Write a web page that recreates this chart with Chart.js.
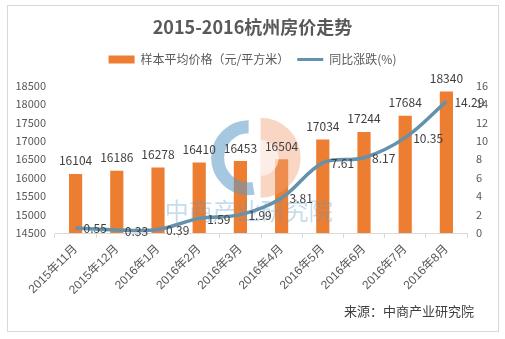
<!DOCTYPE html>
<html>
<head>
<meta charset="utf-8">
<script src="https://cdn.jsdelivr.net/npm/chart.js@4/dist/chart.umd.min.js"></script>
<style>
  html, body { margin: 0; padding: 0; background: #ffffff; width: 505px; height: 339px; overflow: hidden; }
  #frame { position: absolute; left: 7px; top: 5px; width: 492px; height: 327px; border: 1px solid #d9d9d9; box-sizing: border-box; }
  #wrap { position: absolute; left: 0; top: 0; width: 505px; height: 339px; }
</style>
</head>
<body>
<div id="frame"></div>
<div id="wrap"><canvas id="c" width="505" height="339"></canvas></div>
<script>
const categories = ['2015年11月','2015年12月','2016年1月','2016年2月','2016年3月','2016年4月','2016年5月','2016年6月','2016年7月','2016年8月'];
const avgPrice = [16104, 16186, 16278, 16410, 16453, 16504, 17034, 17244, 17684, 18340];
const yoyChange = [0.55, 0.33, 0.39, 1.59, 1.99, 3.81, 7.61, 8.17, 10.35, 14.29];
const priceTicks = { min: 14500, max: 18500, step: 500 };
const pctTicks = { min: 0, max: 16, step: 2 };
const titleText = '2015-2016杭州房价走势';
const seriesNames = ['样本平均价格（元/平方米）', '同比涨跌(%)'];
const sourceText = '来源：中商产业研究院';
const watermarkText = '中商产业研究院';

const FONT = "'Noto Sans CJK SC', 'Noto Sans', sans-serif";
const XFONT = "'Liberation Sans', 'Noto Sans CJK SC', sans-serif";
const ORANGE = '#ed7d31';
const BLUE = '#6491ab';
const TXT = '#404040';
const AX = '#595959';

const labelsPlugin = {
  id: 'valueLabels',
  afterDatasetsDraw(chart) {
    const ctx = chart.ctx;
    const area = chart.chartArea;
    // faint watermark (logo + text)
    ctx.save();
    const cx = area.left + (area.right - area.left) * 0.47;
    const cy = area.top + (area.bottom - area.top) * 0.49;
    ctx.globalAlpha = 0.45;
    ctx.fillStyle = '#f2a27a';
    ctx.beginPath();
    ctx.arc(cx + 12, cy, 40, -Math.PI / 2, Math.PI / 2);
    ctx.closePath();
    ctx.fill();
    ctx.fillStyle = '#ffffff';
    ctx.globalAlpha = 0.6;
    ctx.beginPath();
    ctx.arc(cx + 12, cy, 18, -Math.PI / 2, Math.PI / 2);
    ctx.closePath();
    ctx.fill();
    ctx.globalAlpha = 0.55;
    ctx.strokeStyle = '#5b9bc6';
    ctx.lineWidth = 13;
    ctx.beginPath();
    ctx.arc(cx, cy, 31, -Math.PI / 2, Math.PI * 0.45, true);
    ctx.stroke();
    ctx.globalAlpha = 0.35;
    ctx.fillStyle = '#5b9bc6';
    ctx.font = '24px ' + FONT;
    ctx.textAlign = 'center';
    ctx.textBaseline = 'middle';
    ctx.fillText(watermarkText, cx, area.bottom - 22);
    ctx.restore();

    ctx.save();
    ctx.font = '12px ' + FONT;
    ctx.fillStyle = TXT;
    const m0 = chart.getDatasetMeta(0);
    ctx.textAlign = 'center';
    ctx.textBaseline = 'bottom';
    m0.data.forEach((el, i) => {
      ctx.fillText(String(chart.data.datasets[0].data[i]), el.x, el.y - 7);
    });
    const m1 = chart.getDatasetMeta(1);
    ctx.textAlign = 'left';
    ctx.textBaseline = 'middle';
    m1.data.forEach((el, i) => {
      ctx.fillText(chart.data.datasets[1].data[i].toFixed(2), el.x + 8, el.y + 1);
    });
    ctx.restore();
  },
  afterDraw(chart) {
    const ctx = chart.ctx;
    ctx.save();
    ctx.font = '13px ' + FONT;
    ctx.fillStyle = TXT;
    ctx.textAlign = 'right';
    ctx.textBaseline = 'middle';
    ctx.fillText(sourceText, 474, 311);
    ctx.restore();
  }
};

new Chart(document.getElementById('c'), {
  data: {
    labels: categories,
    datasets: [
      {
        type: 'bar',
        label: seriesNames[0],
        data: avgPrice,
        backgroundColor: ORANGE,
        borderWidth: 0,
        yAxisID: 'y',
        barPercentage: 0.32,
        categoryPercentage: 1,
        order: 2
      },
      {
        type: 'line',
        label: seriesNames[1],
        data: yoyChange,
        borderColor: BLUE,
        backgroundColor: BLUE,
        borderWidth: 3.5,
        pointRadius: 0,
        tension: 0.35,
        yAxisID: 'y1',
        order: 1
      }
    ]
  },
  options: {
    responsive: false,
    animation: false,
    devicePixelRatio: 1,
    layout: { padding: { top: 13, left: 0, right: 0, bottom: 0 } },
    plugins: {
      title: {
        display: true,
        text: titleText,
        color: AX,
        font: { family: FONT, size: 18, weight: 'bold' },
        padding: { top: 3, bottom: 8 }
      },
      subtitle: {
        display: true,
        text: '',
        weight: 500,
        font: { size: 1, lineHeight: 1 },
        padding: { top: 4, bottom: 5 }
      },
      legend: {
        display: true,
        labels: {
          color: AX,
          font: { family: FONT, size: 12 },
          usePointStyle: true,
          pointStyleWidth: 26,
          boxHeight: 8,
          padding: 8,
          generateLabels(chart) {
            return [
              { text: seriesNames[0], fillStyle: ORANGE, strokeStyle: ORANGE, lineWidth: 0, pointStyle: 'rect', datasetIndex: 0, fontColor: AX },
              { text: seriesNames[1], fillStyle: BLUE, strokeStyle: BLUE, lineWidth: 3, pointStyle: 'line', datasetIndex: 1, fontColor: AX }
            ];
          }
        }
      },
      tooltip: { enabled: false }
    },
    scales: {
      x: {
        offset: true,
        grid: { display: true, drawOnChartArea: false, drawTicks: true, tickLength: 5, color: '#d9d9d9', offset: true },
        border: { display: true, color: '#d9d9d9' },
        ticks: { color: AX, font: { family: XFONT, size: 12 }, minRotation: 45, maxRotation: 45, padding: 4 },
        afterFit(s) { s.height = 106; }
      },
      y: {
        position: 'left',
        min: priceTicks.min,
        max: priceTicks.max,
        grid: { display: false, drawTicks: false },
        border: { display: false },
        ticks: { stepSize: priceTicks.step, color: AX, font: { family: FONT, size: 11 }, padding: 9, callback: v => String(v) },
        afterFit(s) { s.width = 55; }
      },
      y1: {
        position: 'right',
        min: pctTicks.min,
        max: pctTicks.max,
        grid: { display: false, drawTicks: false },
        border: { display: false },
        ticks: { stepSize: pctTicks.step, color: AX, font: { family: FONT, size: 11 }, padding: 9, callback: v => String(v) },
        afterFit(s) { s.width = 38; }
      }
    }
  },
  plugins: [labelsPlugin]
});
</script>
</body>
</html>
